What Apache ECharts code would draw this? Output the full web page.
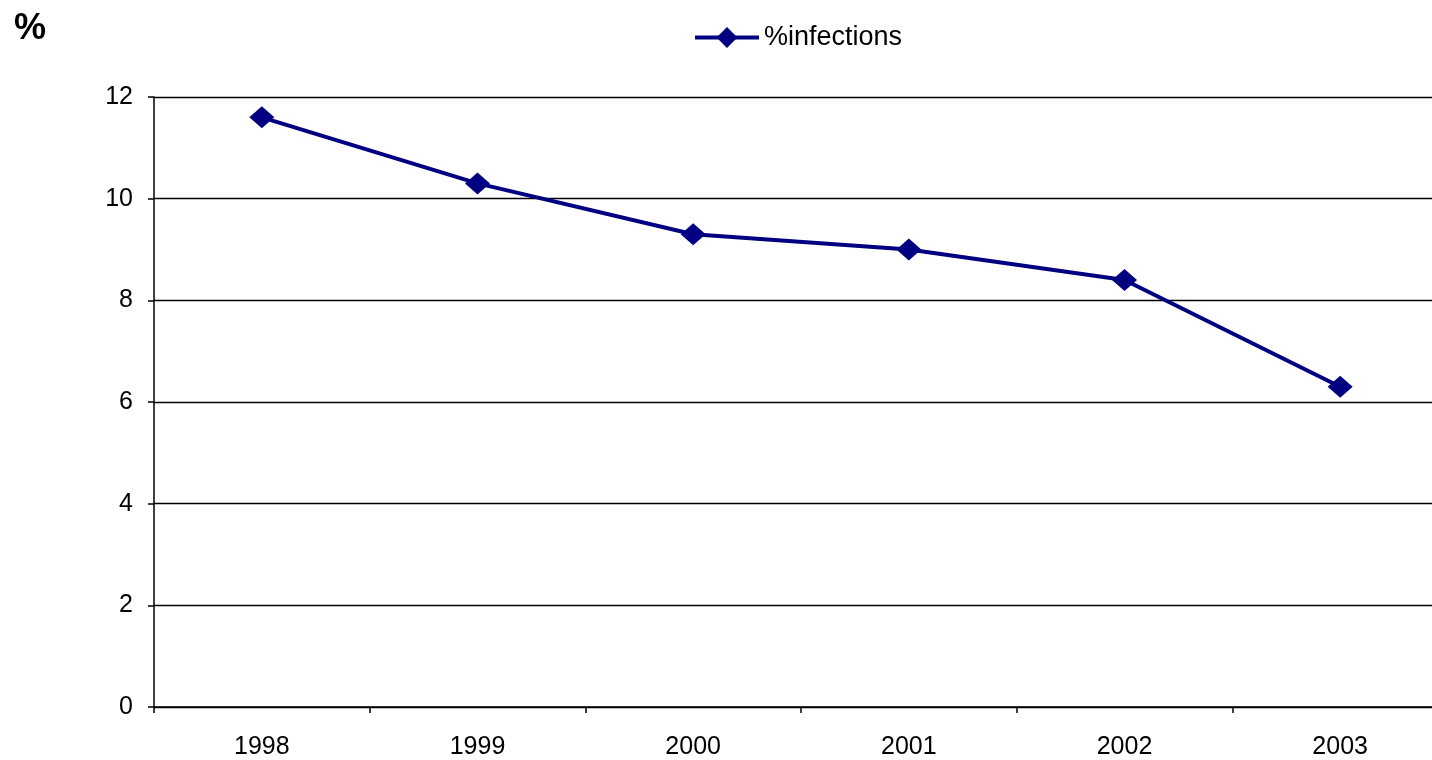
<!DOCTYPE html>
<html>
<head>
<meta charset="utf-8">
<style>
  html, body { margin: 0; padding: 0; background: #fff; overflow: hidden; }
  /* plot runs a little past the right edge of the window */
  #chart { width: 1450px; height: 760px; }
</style>
<script src="https://cdn.jsdelivr.net/npm/echarts@6/dist/echarts.min.js"></script>
</head>
<body>
<div id="chart"></div>
<script>
// Yearly infection rate (%)
const years = ['1998', '1999', '2000', '2001', '2002', '2003'];
const infections = [11.6, 10.3, 9.3, 9.0, 8.4, 6.3];
const seriesName = '%infections';

const FONT = '"Liberation Sans", Arial, sans-serif';
const NAVY = '#000080';
const DIAMOND = 'path://M0,-1 L1,0 L0,1 L-1,0 Z';

const chart = echarts.init(document.getElementById('chart'), null, { renderer: 'canvas' });
chart.setOption({
  animation: false,
  backgroundColor: '#fff',
  textStyle: { fontFamily: FONT },
  graphic: [{
    type: 'text', left: 14, top: 11,
    style: { text: '%', font: 'bold 36px ' + FONT, fill: '#000' }
  }],
  legend: {
    top: 19, left: 688,
    itemWidth: 64, itemHeight: 26, itemGap: 6,
    lineStyle: { width: 4, color: NAVY },
    textStyle: { fontFamily: FONT, fontSize: 27, color: '#000' },
    data: [{ name: seriesName }]
  },
  grid: { left: 154, right: 2, top: 97, bottom: 53, containLabel: false },
  xAxis: {
    type: 'category',
    data: years,
    boundaryGap: true,
    axisLine: { lineStyle: { color: '#000', width: 1.5 } },
    axisTick: { show: true, inside: false, length: 6, lineStyle: { color: '#000', width: 1.5 } },
    axisLabel: { color: '#000', fontSize: 25, fontFamily: FONT, margin: 28 },
    splitLine: { show: false }
  },
  yAxis: {
    type: 'value',
    min: 0, max: 12, interval: 2,
    axisLine: { show: true, lineStyle: { color: '#000', width: 1.5 } },
    axisTick: { show: true, inside: false, length: 6, lineStyle: { color: '#000', width: 1.5 } },
    axisLabel: { color: '#000', fontSize: 25, fontFamily: FONT, margin: 21 },
    splitLine: { show: true, lineStyle: { color: '#000', width: 1.3 } }
  },
  series: [{
    name: seriesName,
    type: 'line',
    data: infections,
    color: NAVY,
    lineStyle: { color: NAVY, width: 4 },
    itemStyle: { color: NAVY },
    symbol: DIAMOND,
    symbolSize: [25, 22],
    showAllSymbol: true
  }]
});
</script>
</body>
</html>
